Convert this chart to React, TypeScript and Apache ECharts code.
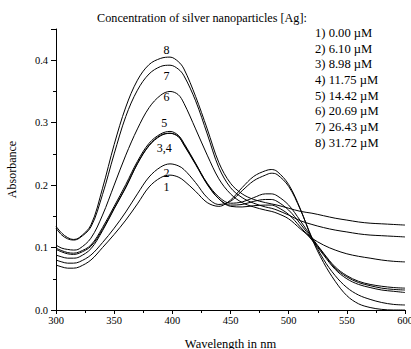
import React, { useEffect, useRef } from "react";
import * as echarts from "echarts";

const wavelengths = [300, 305, 310, 315, 320, 330, 340, 350, 360, 370, 380, 390, 398, 405, 410, 420, 430, 440, 450, 460, 470, 480, 485, 490, 500, 510, 520, 530, 540, 550, 560, 570, 580, 590, 600];

const c1 = [0.072, 0.069, 0.067, 0.067, 0.069, 0.080, 0.100, 0.121, 0.144, 0.170, 0.197, 0.212, 0.216, 0.213, 0.207, 0.190, 0.172, 0.166, 0.176, 0.196, 0.214, 0.223, 0.225, 0.222, 0.201, 0.162, 0.114, 0.076, 0.046, 0.023, 0.010, 0.004, 0.001, 0.000, 0.000];
const c2 = [0.080, 0.077, 0.075, 0.075, 0.077, 0.088, 0.108, 0.131, 0.157, 0.186, 0.213, 0.229, 0.234, 0.231, 0.225, 0.204, 0.180, 0.169, 0.174, 0.191, 0.207, 0.216, 0.219, 0.217, 0.198, 0.161, 0.116, 0.081, 0.055, 0.036, 0.024, 0.017, 0.012, 0.009, 0.008];
const c3 = [0.088, 0.085, 0.083, 0.083, 0.085, 0.098, 0.127, 0.162, 0.196, 0.234, 0.263, 0.279, 0.283, 0.278, 0.265, 0.234, 0.203, 0.181, 0.171, 0.173, 0.180, 0.186, 0.186, 0.183, 0.168, 0.143, 0.116, 0.091, 0.069, 0.055, 0.046, 0.041, 0.038, 0.036, 0.035];
const c4 = [0.097, 0.093, 0.090, 0.089, 0.091, 0.102, 0.129, 0.163, 0.197, 0.235, 0.264, 0.280, 0.283, 0.278, 0.264, 0.233, 0.201, 0.178, 0.168, 0.169, 0.174, 0.177, 0.177, 0.174, 0.160, 0.138, 0.114, 0.090, 0.067, 0.053, 0.044, 0.039, 0.035, 0.033, 0.032];
const c5 = [0.099, 0.095, 0.092, 0.091, 0.093, 0.104, 0.132, 0.166, 0.201, 0.238, 0.267, 0.282, 0.286, 0.280, 0.267, 0.235, 0.202, 0.178, 0.166, 0.165, 0.167, 0.168, 0.168, 0.165, 0.153, 0.133, 0.112, 0.088, 0.065, 0.050, 0.041, 0.036, 0.032, 0.030, 0.028];
const c6 = [0.104, 0.099, 0.097, 0.096, 0.098, 0.115, 0.152, 0.200, 0.248, 0.290, 0.324, 0.344, 0.350, 0.345, 0.331, 0.290, 0.248, 0.210, 0.186, 0.172, 0.165, 0.160, 0.158, 0.155, 0.146, 0.130, 0.115, 0.104, 0.096, 0.090, 0.086, 0.083, 0.080, 0.078, 0.077];
const c7 = [0.131, 0.120, 0.114, 0.112, 0.115, 0.133, 0.185, 0.250, 0.310, 0.352, 0.378, 0.390, 0.392, 0.386, 0.375, 0.335, 0.282, 0.228, 0.196, 0.180, 0.171, 0.165, 0.163, 0.160, 0.152, 0.143, 0.137, 0.132, 0.128, 0.125, 0.122, 0.120, 0.119, 0.118, 0.117];
const c8 = [0.134, 0.123, 0.116, 0.113, 0.116, 0.136, 0.195, 0.265, 0.325, 0.368, 0.393, 0.403, 0.405, 0.398, 0.386, 0.342, 0.290, 0.236, 0.203, 0.186, 0.177, 0.172, 0.170, 0.168, 0.163, 0.158, 0.155, 0.151, 0.147, 0.144, 0.141, 0.139, 0.138, 0.137, 0.136];

const curves = [c1, c2, c3, c4, c5, c6, c7, c8];

const curveLabels = ["1", "2", "3,4", "5", "6", "7", "8"];
const curveLabelX = [395, 395, 393, 393, 395, 395, 395];
const curveLabelY = [0.197, 0.219, 0.259, 0.299, 0.341, 0.374, 0.416];

const legendLines = ["1) 0.00 \u00b5M", "2) 6.10 \u00b5M", "3) 8.98 \u00b5M", "4) 11.75 \u00b5M", "5) 14.42 \u00b5M", "6) 20.69 \u00b5M", "7) 26.43 \u00b5M", "8) 31.72 \u00b5M"];
const titleText = "Concentration of silver nanoparticles [Ag]:";
const xName = "Wavelength in nm";
const yName = "Absorbance";

const FONT = "Liberation Serif";

export default function App() {
  const ref = useRef<HTMLDivElement>(null);
  useEffect(() => {
    if (!ref.current) return;
    const chart = echarts.init(ref.current, undefined, { renderer: "svg" });
    const lineSeries = curves.map((vals, i) => ({
      type: "line",
      name: "c" + (i + 1),
      data: wavelengths.map((w, j) => [w, vals[j]]),
      showSymbol: false,
      smooth: 0.35,
      silent: true,
      lineStyle: { color: "#000", width: 1 },
      z: 2,
    }));
    chart.setOption({
      animation: false,
      backgroundColor: "#fff",
      textStyle: { fontFamily: FONT, color: "#000" },
      grid: { left: 56, right: 6, top: 29, bottom: 39, outerBoundsMode: "none", containLabel: false },
      title: {
        text: titleText,
        left: 197,
        top: 7,
        textAlign: "center",
        textStyle: { fontFamily: FONT, fontSize: 12.2, fontWeight: "normal", color: "#000" },
      },
      graphic: [
        {
          type: "text",
          left: 315,
          top: 25,
          style: {
            text: legendLines.join("\n"),
            fontFamily: FONT,
            fontSize: 12.6,
            fill: "#000",
            lineHeight: 15.7,
          },
        },
      ],
      xAxis: {
        type: "value",
        min: 300,
        max: 600,
        interval: 50,
        name: xName,
        nameLocation: "middle",
        nameGap: 27,
        nameTextStyle: { fontFamily: FONT, fontSize: 12.5, color: "#000" },
        axisLine: { lineStyle: { color: "#000", width: 1 } },
        axisTick: { show: true, inside: false, length: 4, lineStyle: { color: "#000" } },
        minorTick: { show: true, splitNumber: 2, length: 3, lineStyle: { color: "#000" } },
        axisLabel: { fontFamily: FONT, fontSize: 10.5, color: "#000", margin: 5, showMaxLabel: true, hideOverlap: false },
        splitLine: { show: false },
      },
      yAxis: {
        type: "value",
        min: 0,
        max: 0.45,
        interval: 0.1,
        name: yName,
        nameLocation: "middle",
        nameGap: 38,
        nameRotate: 90,
        nameTextStyle: { fontFamily: FONT, fontSize: 12, color: "#000" },
        axisLine: { show: true, lineStyle: { color: "#000", width: 1 } },
        axisTick: { show: true, inside: false, length: 5, lineStyle: { color: "#000" } },
        minorTick: { show: true, splitNumber: 2, length: 3, lineStyle: { color: "#000" } },
        axisLabel: {
          fontFamily: FONT,
          fontSize: 10.5,
          color: "#000",
          margin: 8,
          showMaxLabel: false,
          formatter: (v: number) => v.toFixed(1),
        },
        splitLine: { show: false },
      },
      series: [
        ...lineSeries,
        {
          type: "scatter",
          silent: true,
          symbolSize: 0,
          itemStyle: { opacity: 1, color: "#000" },
          data: curveLabels.map((t, i) => [curveLabelX[i], curveLabelY[i], t]),
          label: {
            show: true,
            position: "inside",
            formatter: (p: any) => p.data[2],
            fontFamily: FONT,
            fontSize: 12,
            color: "#000",
            opacity: 1,
            textBorderWidth: 0,
          },
          z: 5,
        },
      ],
    });
    return () => chart.dispose();
  }, []);
  return (
    <div
      ref={ref}
      style={{ position: "fixed", left: 0, top: 0, width: 411, height: 349, background: "#fff" }}
    />
  );
}
